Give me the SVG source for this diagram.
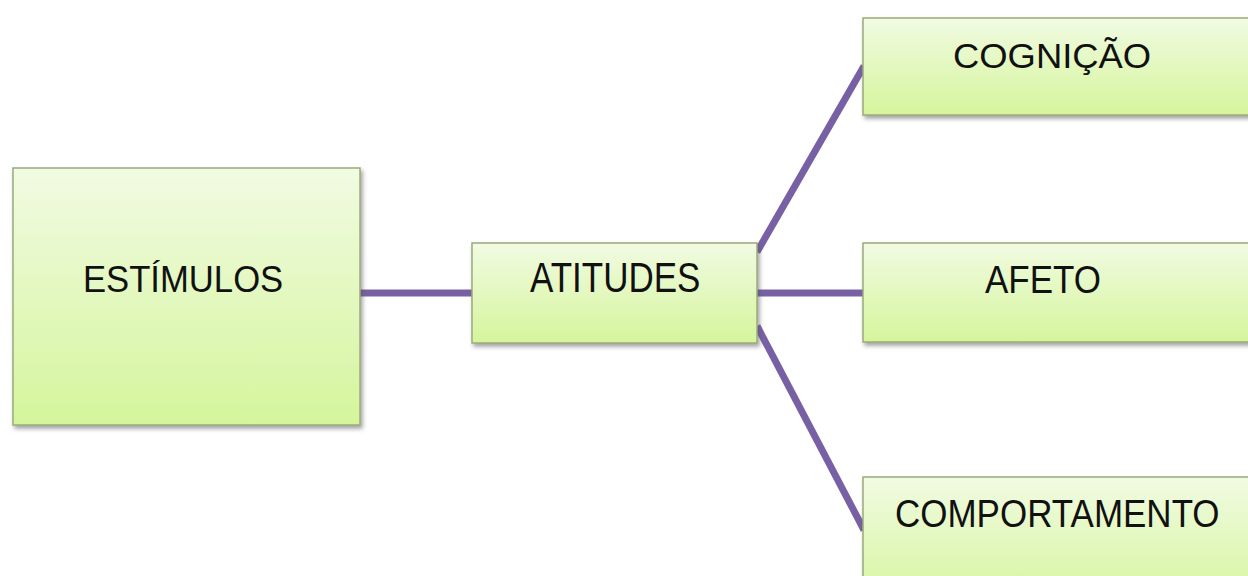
<svg xmlns="http://www.w3.org/2000/svg" width="1248" height="576" viewBox="0 0 1248 576">
  <defs>
    <linearGradient id="boxFill" x1="0" y1="0" x2="0" y2="1">
      <stop offset="0" stop-color="#f1fbe2"/>
      <stop offset="1" stop-color="#d5f59c"/>
    </linearGradient>
    <filter id="shadow" x="-10%" y="-10%" width="125%" height="130%">
      <feDropShadow dx="2" dy="3" stdDeviation="2" flood-color="#555" flood-opacity="0.55"/>
    </filter>
    <style>
      .box { fill: url(#boxFill); stroke: #9aab7c; stroke-width: 1.5; filter: url(#shadow); }
      .lbl { font-family: "Liberation Sans", Arial, sans-serif; font-size: 35px; fill: #111; }
      .conn { stroke: #7860a4; stroke-width: 7; fill: none; stroke-linecap: butt; }
    </style>
  </defs>
  <rect width="1248" height="576" fill="#ffffff"/>

  <g id="connectors">
    <line class="conn" x1="360" y1="293" x2="472" y2="293"/>
    <line class="conn" x1="757" y1="252" x2="864" y2="66"/>
    <line class="conn" x1="757" y1="293" x2="864" y2="293"/>
    <line class="conn" x1="757" y1="326" x2="864" y2="530"/>
  </g>

  <g id="estimulos">
    <rect class="box" x="13" y="168" width="347" height="257"/>
    <text class="lbl" transform="translate(83,292) scale(0.99,1.08)">ESTÍMULOS</text>
  </g>

  <g id="atitudes">
    <rect class="box" x="472" y="243" width="285" height="100"/>
    <text class="lbl" transform="translate(530,292) scale(1,1.2)">ATITUDES</text>
  </g>

  <g id="cognicao">
    <rect class="box" x="863" y="18" width="400" height="97"/>
    <text class="lbl" transform="translate(953,68) scale(1.04,1.02)">COGNIÇÃO</text>
  </g>

  <g id="afeto">
    <rect class="box" x="863" y="243" width="400" height="99"/>
    <text class="lbl" transform="translate(985,293) scale(1,1.12)">AFETO</text>
  </g>

  <g id="comportamento">
    <rect class="box" x="863" y="477" width="400" height="130"/>
    <text class="lbl" transform="translate(895,527) scale(1,1.12)">COMPORTAMENTO</text>
  </g>
</svg>
